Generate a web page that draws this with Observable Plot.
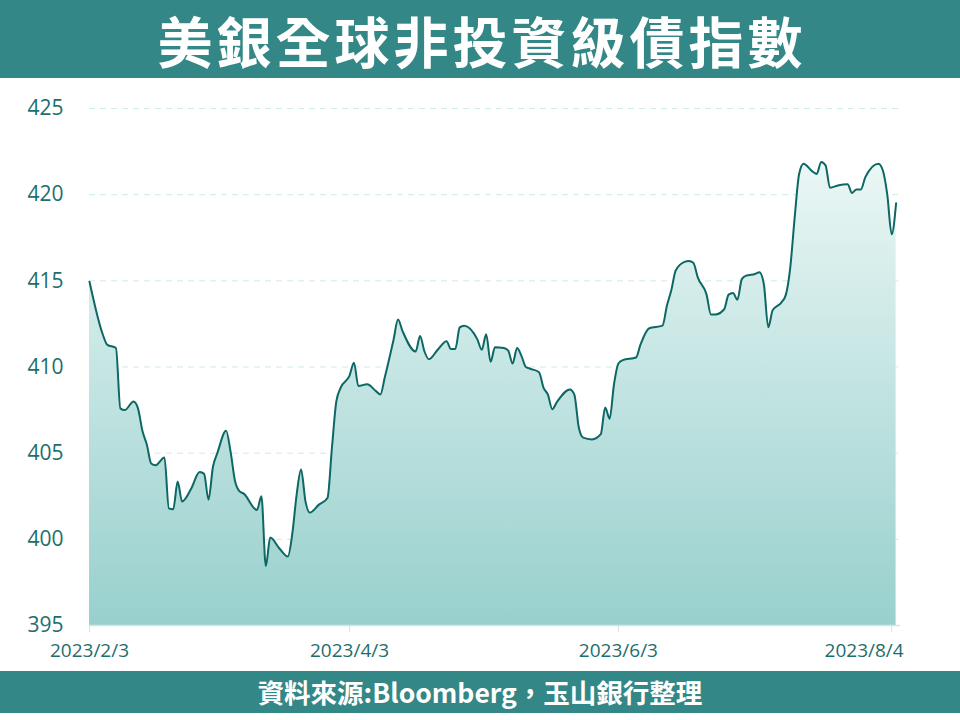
<!DOCTYPE html>
<html><head><meta charset="utf-8">
<script src="https://cdn.jsdelivr.net/npm/d3@7"></script>
<script src="https://cdn.jsdelivr.net/npm/@observablehq/plot@0.6"></script>
<style>
body{margin:0;background:#fff;width:960px;height:720px;overflow:hidden;font-family:"Noto Sans CJK TC",sans-serif;}
#title{height:78px;background:#338786;color:#fff;display:flex;align-items:center;justify-content:center}
#title span{display:inline-block;font-size:55px;font-weight:bold;line-height:66px;letter-spacing:4px;padding-left:4px}
#chart{height:593px}
#chart svg{display:block}
#footer{height:42px;background:#338786;color:#fff;display:flex;align-items:center;justify-content:center}
#footer span{font-size:26.5px;font-weight:bold;line-height:36px}
</style></head>
<body>
<div id="title"><span>美銀全球非投資級債指數</span></div>
<div id="chart"></div>
<div id="footer"><span>資料來源:Bloomberg，玉山銀行整理</span></div>
<script>
const dates = [
"2023-02-03","2023-02-06","2023-02-07","2023-02-09","2023-02-10","2023-02-11","2023-02-13","2023-02-14","2023-02-15","2023-02-16",
"2023-02-17","2023-02-18","2023-02-20","2023-02-21","2023-02-22","2023-02-23","2023-02-24","2023-02-26","2023-02-28","2023-03-01",
"2023-03-02","2023-03-03","2023-03-04","2023-03-06","2023-03-07","2023-03-08","2023-03-09","2023-03-10","2023-03-13","2023-03-14",
"2023-03-15","2023-03-16","2023-03-18","2023-03-20","2023-03-21","2023-03-22","2023-03-23","2023-03-24","2023-03-25","2023-03-27",
"2023-03-29","2023-03-30","2023-03-31","2023-04-01","2023-04-03","2023-04-04","2023-04-05","2023-04-07","2023-04-09","2023-04-10",
"2023-04-11","2023-04-13","2023-04-14","2023-04-15","2023-04-18","2023-04-19","2023-04-20","2023-04-21","2023-04-23","2023-04-25",
"2023-04-26","2023-04-27","2023-04-28","2023-04-29","2023-05-02","2023-05-03","2023-05-04","2023-05-05","2023-05-06","2023-05-08",
"2023-05-09","2023-05-10","2023-05-11","2023-05-12","2023-05-13","2023-05-14","2023-05-16","2023-05-17","2023-05-18","2023-05-19",
"2023-05-20","2023-05-23","2023-05-24","2023-05-25","2023-05-26","2023-05-28","2023-05-30","2023-05-31","2023-06-01","2023-06-02",
"2023-06-03","2023-06-04","2023-06-07","2023-06-08","2023-06-10","2023-06-13","2023-06-14","2023-06-15","2023-06-16","2023-06-18",
"2023-06-19","2023-06-20","2023-06-21","2023-06-23","2023-06-24","2023-06-25","2023-06-27","2023-06-28","2023-06-29","2023-06-30",
"2023-07-01","2023-07-02","2023-07-04","2023-07-05","2023-07-06","2023-07-07","2023-07-08","2023-07-10","2023-07-11","2023-07-12",
"2023-07-13","2023-07-14","2023-07-15","2023-07-17","2023-07-18","2023-07-19","2023-07-20","2023-07-21","2023-07-23","2023-07-25",
"2023-07-26","2023-07-27","2023-07-28","2023-07-29","2023-08-01","2023-08-02","2023-08-03","2023-08-04","2023-08-05"
];
const values = [
414.95,411.9,411.3,411.1,407.6,407.5,408.0,407.6,406.3,405.5,
404.4,404.3,404.75,401.8,401.75,403.35,402.2,402.9,403.9,403.8,
402.3,404.2,405.0,406.3,405.1,403.4,402.8,402.65,401.7,402.5,
398.45,400.1,399.5,399.0,400.3,402.6,404.05,402.2,401.55,402.0,
402.4,405.3,408.0,408.8,409.5,410.25,408.9,409.0,408.6,408.4,
409.4,411.6,412.75,412.1,410.9,411.8,410.9,410.45,411.0,411.5,
411.05,411.05,412.3,412.4,411.6,411.0,411.9,410.3,411.15,411.1,
410.95,410.2,411.1,410.65,410.0,409.9,409.7,408.8,408.4,407.55,
407.95,408.7,408.4,406.5,405.9,405.8,406.1,407.65,407.0,409.0,
410.2,410.4,410.55,411.3,412.25,412.4,413.55,414.45,415.6,416.1,
416.15,416.05,415.2,414.2,413.05,413.05,413.35,414.2,414.3,413.9,
415.1,415.3,415.4,415.5,414.8,412.3,413.3,413.75,414.2,415.8,
418.7,421.2,421.8,421.35,421.2,421.9,421.7,420.4,420.55,420.6,
420.1,420.3,420.3,421.0,421.8,421.4,420.0,417.7,419.5
];
const yTicks = [395, 400, 405, 410, 415, 420, 425];
const xTickDates = ["2023-02-03", "2023-04-03", "2023-06-03", "2023-08-04"];
const xTickLabels = ["2023/2/3", "2023/4/3", "2023/6/3", "2023/8/4"];
const xDomain = ["2023-02-03", "2023-08-06"];
const yDomain = [395, 425];

const parse = d3.utcParse("%Y-%m-%d");
const data = dates.map((d, i) => ({date: parse(d), value: values[i]}));
const ticks = xTickDates.map((d, i) => ({date: parse(d), label: xTickLabels[i]}));
const tickMain = ticks.slice(0, -1);
const tickLast = ticks.slice(-1);

const ink = "#1d6e6d";
const font = "'Open Sans', sans-serif";

const gradient = () => {
  const defs = d3.create("svg:defs");
  const g = defs.append("linearGradient").attr("id", "areaGrad")
    .attr("x1", 0).attr("y1", 0).attr("x2", 0).attr("y2", 1);
  g.append("stop").attr("offset", "0%").attr("stop-color", "#eaf7f5");
  g.append("stop").attr("offset", "100%").attr("stop-color", "#98d0cd");
  return defs.node();
};

const chart = Plot.plot({
  width: 960,
  height: 593,
  marginLeft: 89,
  marginRight: 60,
  marginTop: 30,
  marginBottom: 46,
  style: {fontFamily: font, background: "transparent"},
  x: {type: "utc", domain: xDomain.map(parse)},
  y: {domain: yDomain},
  marks: [
    gradient,
    Plot.gridY(yTicks.filter(v => v > 395), {stroke: "#cdebe7", strokeOpacity: 1, strokeDasharray: "6,5"}),
    Plot.areaY(data, {x: "date", y1: 395, y2: "value", fill: "url(#areaGrad)", curve: "monotone-x"}),
    Plot.lineY(data, {x: "date", y: "value", stroke: "#0d6764", strokeWidth: 2, curve: "monotone-x"}),
    Plot.ruleY([395], {stroke: "#cfe8e6", strokeWidth: 1.5}),
    Plot.axisX({ticks: ticks.map(t => t.date), tickSize: 7, stroke: "#cfe8e6", tickFormat: () => "", label: null}),
    Plot.text(tickMain, {x: "date", text: "label", frameAnchor: "bottom", lineAnchor: "top", dy: 18, fontSize: 19, fill: ink}),
    Plot.text(tickLast, {x: "date", text: "label", frameAnchor: "bottom", lineAnchor: "top", dy: 18, dx: 12, textAnchor: "end", fontSize: 19, fill: ink}),
    Plot.axisY({ticks: yTicks, tickSize: 0, tickPadding: 26, fontSize: 21, color: ink, label: null, tickFormat: d => String(d)})
  ]
});
document.getElementById("chart").appendChild(chart);
</script>
</body></html>
